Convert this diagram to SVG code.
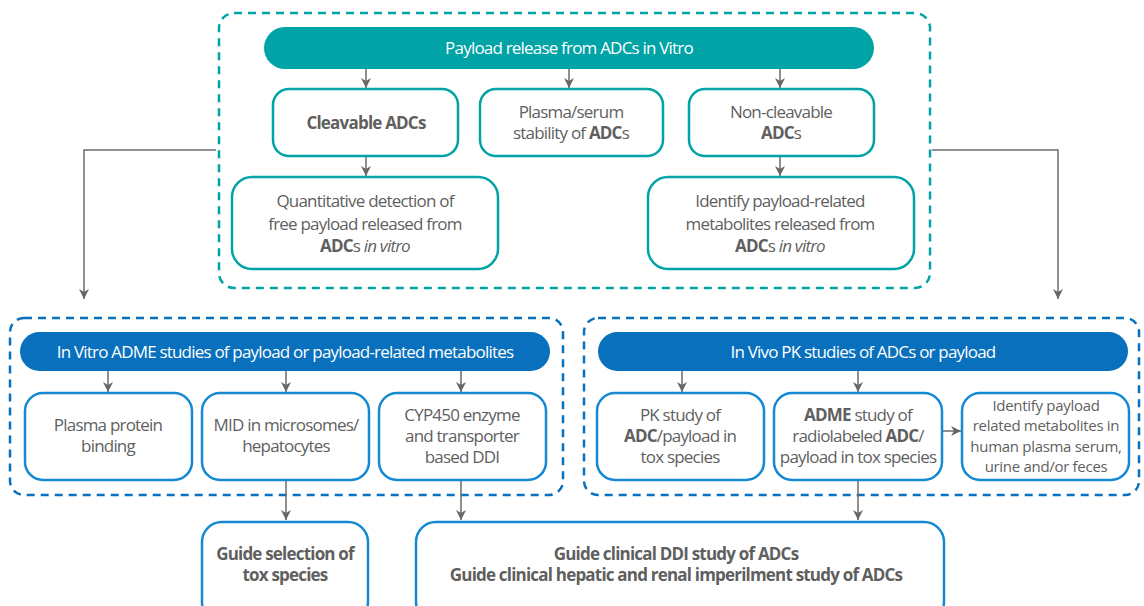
<svg xmlns="http://www.w3.org/2000/svg" width="1144" height="606" viewBox="0 0 1144 606">
<defs>
<marker id="ah" viewBox="0 0 10 10" refX="10" refY="5" markerWidth="10" markerHeight="10" markerUnits="userSpaceOnUse" orient="auto"><path d="M0,0 L10,5 L0,10 L3,5 z" fill="#666"/></marker>
<style>
.t{font-family:"Open Sans","Liberation Sans",sans-serif;font-size:17px;fill:#5f5f5f;letter-spacing:-0.8px;text-anchor:middle}
.h{font-family:"Open Sans","Liberation Sans",sans-serif;font-size:17px;fill:#fff;letter-spacing:-0.8px;text-anchor:middle}
.s{font-size:15px;letter-spacing:-0.3px}
.b{font-weight:bold}
.tealbox{fill:#fff;stroke:#00A3A6;stroke-width:2.5}
.bluebox{fill:#fff;stroke:#1589D4;stroke-width:2.5}
.dteal{fill:none;stroke:#00A3A6;stroke-width:2.5;stroke-dasharray:8,6}
.dblue{fill:none;stroke:#0870BC;stroke-width:2.5;stroke-dasharray:8,6}
.c{fill:none;stroke:#6b6b6b;stroke-width:1.5;marker-end:url(#ah)}
</style>
</defs>
<rect width="1144" height="606" fill="#fff"/>
<g id="containers">
<rect class="dteal" x="219" y="13" width="711" height="275" rx="15"/>
<rect class="dblue" x="10" y="318" width="553" height="177" rx="14"/>
<rect class="dblue" x="584" y="318" width="555" height="177" rx="14"/>
</g>
<g id="connectors">
<line class="c" x1="366" y1="69" x2="366" y2="88"/>
<line class="c" x1="569" y1="69" x2="569" y2="88"/>
<line class="c" x1="780" y1="69" x2="780" y2="88"/>
<line class="c" x1="366" y1="157" x2="366" y2="176"/>
<line class="c" x1="780" y1="157" x2="780" y2="176"/>
<polyline class="c" points="216,150 84,150 84,299"/>
<polyline class="c" points="932,150 1058,150 1058,299"/>
<line class="c" x1="108" y1="371" x2="108" y2="392"/>
<line class="c" x1="286" y1="371" x2="286" y2="392"/>
<line class="c" x1="461" y1="371" x2="461" y2="392"/>
<line class="c" x1="682" y1="371" x2="682" y2="392"/>
<line class="c" x1="858" y1="371" x2="858" y2="392"/>
<line class="c" x1="943" y1="431" x2="961" y2="431"/>
<line class="c" x1="286" y1="481" x2="286" y2="520"/>
<line class="c" x1="461" y1="481" x2="461" y2="520"/>
<line class="c" x1="858" y1="481" x2="858" y2="520"/>
</g>
<g id="n-top">
<rect x="264" y="27" width="610" height="42" rx="21" fill="#00A3A6"/>
<text class="h" x="569" y="54">Payload release from ADCs in Vitro</text>
</g>
<g id="n-cleavable">
<rect class="tealbox" x="273" y="89" width="185" height="67" rx="16"/>
<text class="t b" x="366" y="129">Cleavable ADCs</text>
</g>
<g id="n-plasma">
<rect class="tealbox" x="480" y="89" width="183" height="67" rx="16"/>
<text class="t" x="571" y="118">Plasma/serum</text>
<text class="t" x="571" y="139">stability of <tspan class="b">ADC</tspan>s</text>
</g>
<g id="n-noncleavable">
<rect class="tealbox" x="689" y="89" width="185" height="67" rx="16"/>
<text class="t" x="781" y="118">Non-cleavable</text>
<text class="t" x="781" y="139"><tspan class="b">ADC</tspan>s</text>
</g>
<g id="n-quant">
<rect class="tealbox" x="232" y="177" width="266" height="92" rx="20"/>
<text class="t" x="365" y="207">Quantitative detection of</text>
<text class="t" x="365" y="230">free payload released from</text>
<text class="t" x="365" y="252"><tspan class="b">ADC</tspan>s <tspan font-style="italic">in vitro</tspan></text>
</g>
<g id="n-identify1">
<rect class="tealbox" x="648" y="177" width="266" height="92" rx="20"/>
<text class="t" x="780" y="207">Identify payload-related</text>
<text class="t" x="780" y="230">metabolites released from</text>
<text class="t" x="780" y="252"><tspan class="b">ADC</tspan>s <tspan font-style="italic">in vitro</tspan></text>
</g>
<g id="n-invitro">
<rect x="20" y="332" width="530" height="39" rx="19.5" fill="#0870BC"/>
<text class="h" x="285" y="358">In Vitro ADME studies of payload or payload-related metabolites</text>
</g>
<g id="n-ppb">
<rect class="bluebox" x="25" y="393" width="167" height="87" rx="18"/>
<text class="t" x="108" y="431">Plasma protein</text>
<text class="t" x="108" y="452">binding</text>
</g>
<g id="n-mid">
<rect class="bluebox" x="202" y="393" width="167" height="87" rx="18"/>
<text class="t" x="286" y="431">MID in microsomes/</text>
<text class="t" x="286" y="452">hepatocytes</text>
</g>
<g id="n-cyp">
<rect class="bluebox" x="379" y="393" width="167" height="87" rx="18"/>
<text class="t" x="462" y="421">CYP450 enzyme</text>
<text class="t" x="462" y="442">and transporter</text>
<text class="t" x="462" y="463">based DDI</text>
</g>
<g id="n-invivo">
<rect x="598" y="332" width="530" height="39" rx="19.5" fill="#0870BC"/>
<text class="h" x="863" y="358">In Vivo PK studies of ADCs or payload</text>
</g>
<g id="n-pk">
<rect class="bluebox" x="597" y="393" width="167" height="87" rx="18"/>
<text class="t" x="680" y="421">PK study of</text>
<text class="t" x="680" y="442"><tspan class="b">ADC</tspan>/payload in</text>
<text class="t" x="680" y="463">tox species</text>
</g>
<g id="n-adme">
<rect class="bluebox" x="774" y="393" width="168" height="87" rx="18"/>
<text class="t" x="858" y="421"><tspan class="b">ADME</tspan> study of</text>
<text class="t" x="858" y="442">radiolabeled <tspan class="b">ADC</tspan>/</text>
<text class="t" x="858" y="463">payload in tox species</text>
</g>
<g id="n-identify2">
<rect class="bluebox" x="962" y="393" width="167" height="87" rx="18"/>
<text class="t s" x="1046" y="410.5">Identify payload</text>
<text class="t s" x="1046" y="431">related metabolites in</text>
<text class="t s" x="1046" y="451.5">human plasma serum,</text>
<text class="t s" x="1046" y="472">urine and/or feces</text>
</g>
<g id="n-guide1">
<rect class="bluebox" x="202" y="522" width="166" height="100" rx="20"/>
<text class="t b" x="285" y="560">Guide selection of</text>
<text class="t b" x="285" y="581">tox species</text>
</g>
<g id="n-guide2">
<rect class="bluebox" x="416" y="522" width="528" height="100" rx="20"/>
<text class="t b" x="676" y="560">Guide clinical DDI study of ADCs</text>
<text class="t b" x="676" y="581">Guide clinical hepatic and renal imperilment study of ADCs</text>
</g>
</svg>
